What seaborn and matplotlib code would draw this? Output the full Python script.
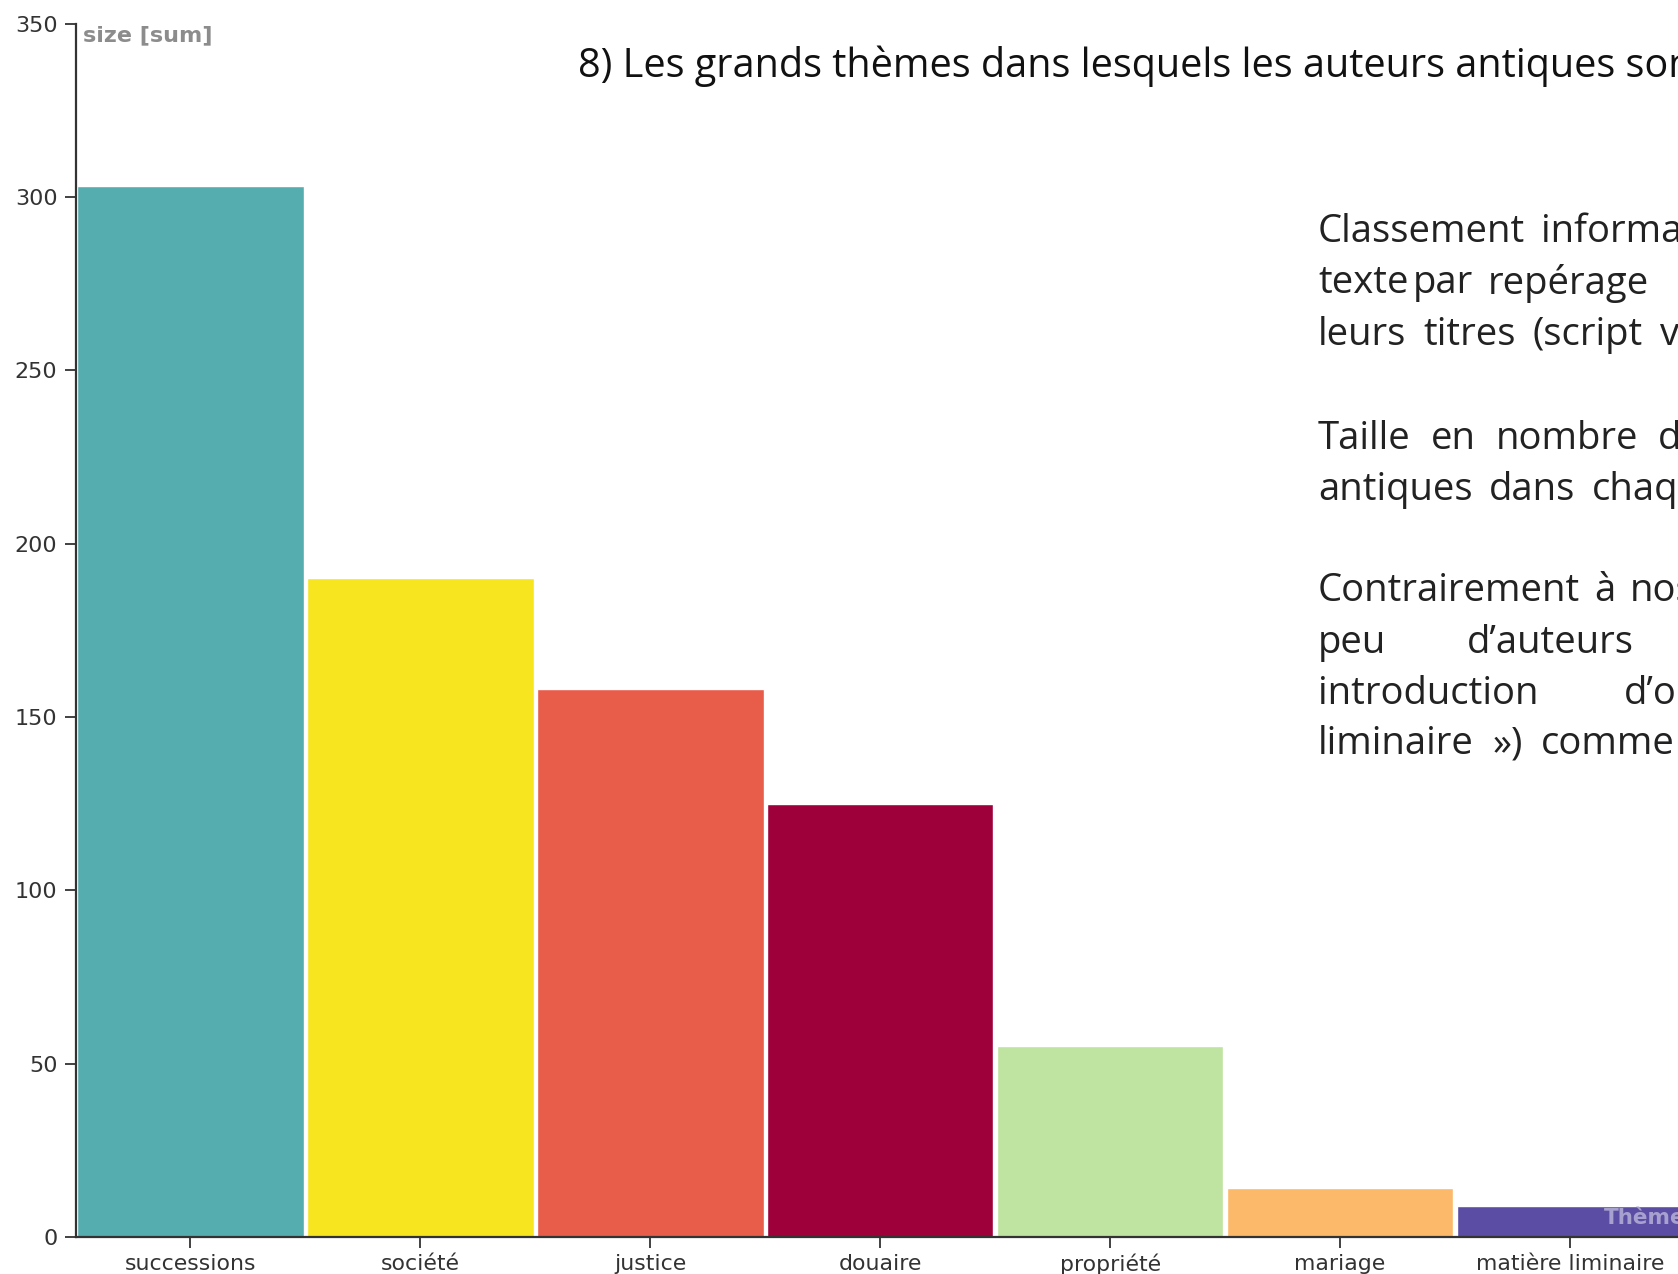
import matplotlib
matplotlib.use("Agg")
import matplotlib.pyplot as plt
import seaborn as sns
import pandas as pd

# ---- data ----
categories = ["successions", "société", "justice", "douaire",
              "propriété", "mariage", "matière liminaire"]
sizes = [303, 190, 158, 125, 55, 14, 9]
bar_colors = ["#56adb0", "#f6e51f", "#e85c4a", "#9e003a",
              "#bfe3a0", "#fdb96a", "#5b4da3"]
y_ticks = [0, 50, 100, 150, 200, 250, 300, 350]
y_label = "size [sum]"
x_label = "Thème"
title = "8) Les grands thèmes dans lesquels les auteurs antiques sont cités"

W, H = 1678, 1274

sns.set_theme(style="ticks")
plt.rcParams["font.family"] = ["DejaVu Sans"]

fig = plt.figure(figsize=(W / 100, H / 100), dpi=100)
fig.patch.set_facecolor("white")

x0, x1 = 75.5, 1685
y_top, y_bot = 23.5, 1237
ax = fig.add_axes([x0 / W, 1 - y_bot / H, (x1 - x0) / W, (y_bot - y_top) / H])

df = pd.DataFrame({"theme": categories, "size": sizes})
sns.barplot(data=df, x="theme", y="size", hue="theme", order=categories,
            hue_order=categories, palette=bar_colors, saturation=1,
            width=0.985, legend=False, ax=ax)

ax.set_xlim(-0.5, len(categories) - 0.5)
ax.set_ylim(0, 350)
ax.set_yticks(y_ticks)
ax.set_xlabel("")
ax.set_ylabel("")
sns.despine(ax=ax)
for s in ("left", "bottom"):
    ax.spines[s].set_color("#333333")
    ax.spines[s].set_linewidth(1.6)
ax.tick_params(axis="both", length=8, width=1.3, color="#333333",
               labelcolor="#333333")
ax.tick_params(axis="y", labelsize=16, pad=5)
ax.tick_params(axis="x", labelsize=15.8, pad=4)

# axis titles
fig.text(83 / W, 1 - 35 / H, y_label, ha="left", va="center",
         fontsize=16, fontweight="bold", color="#8c8c8c")
fig.text(x1 / W, 1 - 1218 / H, x_label, ha="right", va="center",
         fontsize=15.5, fontweight="bold", color="#a7a1cf")

# title
fig.text(578 / W, 1 - 66 / H, title, ha="left", va="center",
         fontsize=28.5, family="Open Sans", color="#111111")

# justified side text
BODY = dict(ha="left", va="center", fontsize=27.5, family="Open Sans",
            color="#222222")
renderer = fig.canvas.get_renderer()


def width_px(s):
    t = fig.text(0, 0, s, **BODY)
    w = t.get_window_extent(renderer=renderer).width
    t.remove()
    return w


space_w = width_px("a a") - width_px("aa")

# (y center px, words, explicit x positions or None, target x of last word)
lines = [
    (232, ["Classement", "informatique"], [1318, 1541], None),
    (283, ["texte", "par", "repérage"], [1318, 1413, 1488], None),
    (335, ["leurs", "titres", "(script", "v"], None, 1660),
    (439, ["Taille", "en", "nombre", "de"], None, 1658),
    (490, ["antiques", "dans", "chaque"], None, 1592),
    (591, ["Contrairement", "à", "nos"], [1318, 1594, 1630], None),
    (643, ["peu", "d’auteurs"], [1318, 1467], None),
    (694, ["introduction", "d’o"], [1318, 1624], None),
    (744, ["liminaire", "»)", "comme"], None, 1541),
]
left = 1318
for yp, words, xs, target in lines:
    if xs is None:
        widths = [width_px(w) for w in words]
        nat = [left]
        for w in widths[:-1]:
            nat.append(nat[-1] + w + space_w)
        extra = (target - nat[-1]) / max(len(words) - 1, 1)
        xs = [n + i * extra for i, n in enumerate(nat)]
    for xp, w in zip(xs, words):
        fig.text(xp / W, 1 - yp / H, w, **BODY)

fig.savefig("out.png", dpi=100)
